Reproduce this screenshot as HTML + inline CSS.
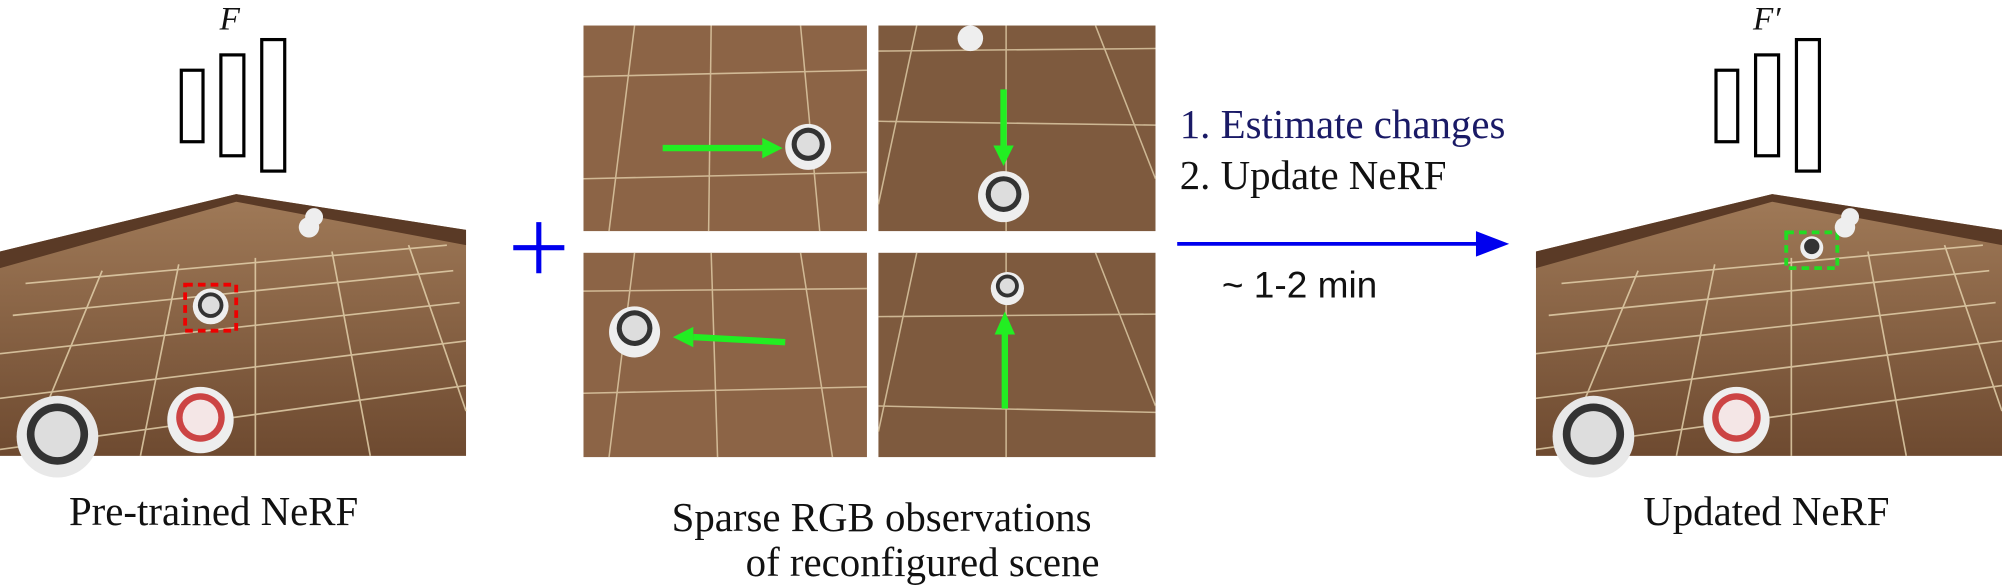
<!DOCTYPE html>
<html><head><meta charset="utf-8">
<style>
html,body{margin:0;padding:0;background:#fff;width:2002px;height:582px;overflow:hidden}
#root{position:absolute;left:0;top:0;width:1568px;height:456px;transform:scale(1.27679);transform-origin:0 0;font-family:"Liberation Serif",serif;color:#111}
.t{position:absolute;white-space:nowrap;font-size:32px;line-height:32px}
svg{position:absolute;overflow:visible}
</style></head><body>
<div id="root">

<div class="t" style="left:172px;top:-1px;font-size:26px;font-style:italic">F</div>
<svg style="left:0;top:0" width="400" height="150">
<rect x="142" y="55" width="17" height="56" fill="none" stroke="#000" stroke-width="2.5"/>
<rect x="173" y="43" width="18" height="79" fill="none" stroke="#000" stroke-width="2.5"/>
<rect x="205" y="31" width="18" height="103" fill="none" stroke="#000" stroke-width="2.5"/>
</svg>

<div class="t" style="left:1373px;top:-1px;font-size:26px;font-style:italic">F′</div>
<svg style="left:0;top:0" width="1568" height="150">
<rect x="1344" y="55" width="17" height="56" fill="none" stroke="#000" stroke-width="2.5"/>
<rect x="1375" y="43" width="18" height="79" fill="none" stroke="#000" stroke-width="2.5"/>
<rect x="1407" y="31" width="18" height="103" fill="none" stroke="#000" stroke-width="2.5"/>
</svg>

<svg style="left:0;top:152px" width="365" height="205" viewBox="0 0 365 205">
<defs><linearGradient id="wd" x1="0" y1="0" x2="0" y2="1"><stop offset="0" stop-color="#a07a58"/><stop offset="1" stop-color="#6e4a30"/></linearGradient></defs>
<polygon points="0,45 185,0 365,28 365,205 0,205" fill="url(#wd)"/>
<polygon points="0,45 185,0 365,28 365,40 185,6 0,58" fill="#5a3a26"/>
<g stroke="#e8d6b0" stroke-width="1.3" opacity=".8">
<line x1="20" y1="70" x2="350" y2="40"/><line x1="10" y1="95" x2="355" y2="60"/><line x1="0" y1="125" x2="360" y2="85"/><line x1="0" y1="160" x2="365" y2="115"/><line x1="0" y1="200" x2="365" y2="150"/>
<line x1="80" y1="60" x2="20" y2="205"/><line x1="140" y1="55" x2="110" y2="205"/><line x1="200" y1="50" x2="200" y2="205"/><line x1="260" y1="45" x2="290" y2="205"/><line x1="320" y1="40" x2="365" y2="170"/>
</g>
<circle cx="165" cy="88" r="14" fill="#eee"/><circle cx="165" cy="87" r="10" fill="#333"/><circle cx="165" cy="87" r="7" fill="#ddd"/>
<rect x="145" y="71" width="40" height="36" fill="none" stroke="#e00" stroke-width="3" stroke-dasharray="6,4"/>
<circle cx="242" cy="26" r="8" fill="#eee"/><circle cx="246" cy="18" r="7" fill="#eee"/>
<circle cx="157" cy="177" r="26" fill="#eee"/><circle cx="157" cy="175" r="19" fill="#c44"/><circle cx="157" cy="175" r="14" fill="#f4e6e6"/>
<circle cx="45" cy="190" r="32" fill="#e8e8e8"/><circle cx="45" cy="188" r="24" fill="#333"/><circle cx="45" cy="188" r="18" fill="#ddd"/>
</svg>

<svg style="left:1203px;top:152px" width="365" height="205" viewBox="0 0 365 205">
<polygon points="0,45 185,0 365,28 365,205 0,205" fill="url(#wd)"/>
<polygon points="0,45 185,0 365,28 365,40 185,6 0,58" fill="#5a3a26"/>
<g stroke="#e8d6b0" stroke-width="1.3" opacity=".8">
<line x1="20" y1="70" x2="350" y2="40"/><line x1="10" y1="95" x2="355" y2="60"/><line x1="0" y1="125" x2="360" y2="85"/><line x1="0" y1="160" x2="365" y2="115"/><line x1="0" y1="200" x2="365" y2="150"/>
<line x1="80" y1="60" x2="20" y2="205"/><line x1="140" y1="55" x2="110" y2="205"/><line x1="200" y1="50" x2="200" y2="205"/><line x1="260" y1="45" x2="290" y2="205"/><line x1="320" y1="40" x2="365" y2="170"/>
</g>
<circle cx="216" cy="42" r="9" fill="#eee"/><circle cx="216" cy="41" r="6" fill="#333"/>
<rect x="196" y="30" width="40" height="28" fill="none" stroke="#2d2" stroke-width="3" stroke-dasharray="6,4"/>
<circle cx="242" cy="26" r="8" fill="#eee"/><circle cx="246" cy="18" r="7" fill="#eee"/>
<circle cx="157" cy="177" r="26" fill="#eee"/><circle cx="157" cy="175" r="19" fill="#c44"/><circle cx="157" cy="175" r="14" fill="#f4e6e6"/>
<circle cx="45" cy="190" r="32" fill="#e8e8e8"/><circle cx="45" cy="188" r="24" fill="#333"/><circle cx="45" cy="188" r="18" fill="#ddd"/>
</svg>

<svg style="left:400px;top:172px" width="44" height="44">
<line x1="22" y1="2" x2="22" y2="42" stroke="#0000ee" stroke-width="4"/><line x1="2" y1="22" x2="42" y2="22" stroke="#0000ee" stroke-width="4"/>
</svg>

<svg style="left:457px;top:20px" width="222" height="161">
<rect width="222" height="161" fill="#8c6446"/><g stroke="#e8d6b0" stroke-width="1.2" opacity=".75"><line x1="0" y1="40" x2="222" y2="35"/><line x1="0" y1="120" x2="222" y2="115"/><line x1="40" y1="0" x2="20" y2="161"/><line x1="100" y1="0" x2="98" y2="161"/><line x1="170" y1="0" x2="185" y2="161"/></g>
<circle cx="176" cy="95" r="18" fill="#eee"/><circle cx="176" cy="93" r="13" fill="#333"/><circle cx="176" cy="93" r="9" fill="#ddd"/>
<line x1="62" y1="96" x2="142" y2="96" stroke="#22ee22" stroke-width="5"/><polygon points="140,88 156,96 140,104" fill="#22ee22"/>
</svg>
<svg style="left:688px;top:20px" width="217" height="161">
<rect width="217" height="161" fill="#7e5a3e"/><g stroke="#e8d6b0" stroke-width="1.2" opacity=".75"><line x1="0" y1="20" x2="217" y2="18"/><line x1="0" y1="75" x2="217" y2="78"/><line x1="30" y1="0" x2="0" y2="140"/><line x1="100" y1="0" x2="100" y2="161"/><line x1="170" y1="0" x2="217" y2="120"/></g>
<circle cx="72" cy="10" r="10" fill="#eee"/>
<circle cx="98" cy="134" r="20" fill="#eee"/><circle cx="98" cy="132" r="14" fill="#333"/><circle cx="98" cy="132" r="10" fill="#ddd"/>
<line x1="98" y1="50" x2="98" y2="96" stroke="#22ee22" stroke-width="5"/><polygon points="90,94 98,110 106,94" fill="#22ee22"/>
</svg>
<svg style="left:457px;top:198px" width="222" height="160">
<rect width="222" height="160" fill="#8c6446"/><g stroke="#e8d6b0" stroke-width="1.2" opacity=".75"><line x1="0" y1="30" x2="222" y2="28"/><line x1="0" y1="110" x2="222" y2="105"/><line x1="40" y1="0" x2="20" y2="160"/><line x1="100" y1="0" x2="105" y2="160"/><line x1="170" y1="0" x2="195" y2="160"/></g>
<circle cx="40" cy="62" r="20" fill="#eee"/><circle cx="40" cy="59" r="14" fill="#333"/><circle cx="40" cy="59" r="10" fill="#ddd"/>
<line x1="86" y1="66" x2="158" y2="70" stroke="#22ee22" stroke-width="5"/><polygon points="86,58 70,66 86,74" fill="#22ee22"/>
</svg>
<svg style="left:688px;top:198px" width="217" height="160">
<rect width="217" height="160" fill="#7e5a3e"/><g stroke="#e8d6b0" stroke-width="1.2" opacity=".75"><line x1="0" y1="50" x2="217" y2="48"/><line x1="0" y1="120" x2="217" y2="125"/><line x1="30" y1="0" x2="0" y2="140"/><line x1="100" y1="0" x2="100" y2="160"/><line x1="170" y1="0" x2="217" y2="120"/></g>
<circle cx="101" cy="28" r="13" fill="#eee"/><circle cx="101" cy="26" r="9" fill="#333"/><circle cx="101" cy="26" r="6" fill="#ddd"/>
<line x1="99" y1="122" x2="99" y2="62" stroke="#22ee22" stroke-width="5"/><polygon points="91,64 99,46 107,64" fill="#22ee22"/>
</svg>

<div class="t" style="left:924px;top:81px;color:#1a1a66">1. Estimate changes</div>
<div class="t" style="left:924px;top:121px">2. Update NeRF</div>
<svg style="left:920px;top:178px" width="265" height="26">
<line x1="2" y1="13" x2="240" y2="13" stroke="#0000ee" stroke-width="3"/><polygon points="236,3 262,13 236,23" fill="#0000ee"/>
</svg>
<div class="t" style="left:957px;top:208px;font-family:'Liberation Sans',sans-serif;font-size:29px">~ 1-2 min</div>

<div class="t" style="left:54px;top:384px">Pre-trained NeRF</div>
<div class="t" style="left:526px;top:389px">Sparse RGB observations</div>
<div class="t" style="left:584px;top:424px">of reconfigured scene</div>
<div class="t" style="left:1287px;top:384px">Updated NeRF</div>
</div>
</body></html>
